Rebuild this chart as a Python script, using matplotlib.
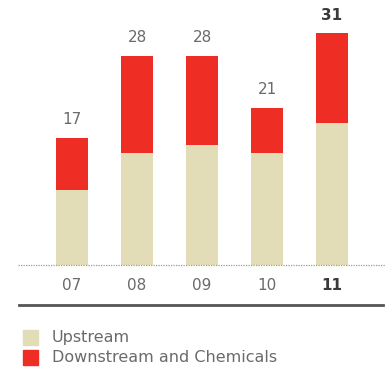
import matplotlib
matplotlib.use("Agg")
import matplotlib.pyplot as plt
from matplotlib.patches import Rectangle
from matplotlib.lines import Line2D

years = ["07", "08", "09", "10", "11"]
upstream = [10, 15, 16, 15, 19]
downstream = [7, 13, 12, 6, 12]
totals = [17, 28, 28, 21, 31]

beige = "#e2ddb6"
red = "#ee2e24"
grey = "#6a6a6a"

plt.rcParams["font.family"] = ["DejaVu Sans"]

W, H = 385, 368
fig = plt.figure(figsize=(W / 100, H / 100), dpi=100)
ax = fig.add_axes([18 / W, (H - 265) / H, 1 - 18 / W, 265 / H])

x = list(range(len(years)))
ax.bar(x, upstream, width=0.49, color=beige)
ax.bar(x, downstream, bottom=upstream, width=0.49, color=red)

for i, t in enumerate(totals):
    bold = i == len(totals) - 1
    ax.text(i, t + 1.4, str(t), ha="center", va="bottom", fontsize=11,
            color="#3a3a3a" if bold else grey,
            fontweight="bold" if bold else "normal")
    ax.text(i, -2.8, years[i], ha="center", va="center", fontsize=11,
            color="#3a3a3a" if bold else grey,
            fontweight="bold" if bold else "normal")

# dotted baseline
ax.axhline(0, color="#999999", lw=0.9, ls=(0, (1, 1)), clip_on=False)
ax.set_xlim(-0.831, 4.815)
ax.set_ylim(0, 265 / 7.48)
ax.axis("off")

# solid rule under the year labels
fig.add_artist(Line2D([19 / W, 383 / W], [(H - 305) / H] * 2, color="#555555", lw=2))

# legend
for k, (lab, c) in enumerate([("Upstream", beige), ("Downstream and Chemicals", red)]):
    y0 = 330 + 20 * k
    fig.add_artist(Rectangle((23 / W, (H - y0 - 15) / H), 15 / W, 15 / H,
                             color=c, transform=fig.transFigure))
    fig.text(52 / W, (H - y0 - 7.5) / H, lab, fontsize=11.5, color=grey, va="center")

fig.savefig("out.png", dpi=100)
